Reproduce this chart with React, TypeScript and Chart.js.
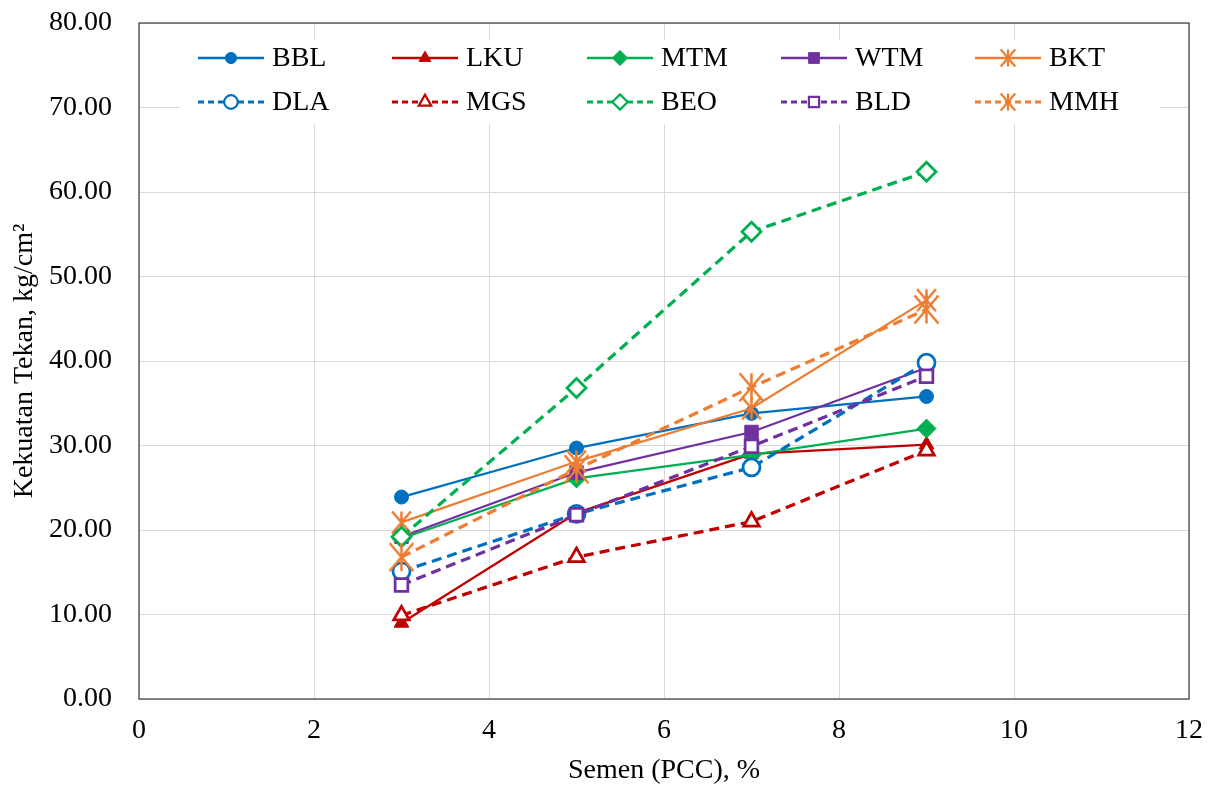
import React, { useEffect, useRef } from 'react';
import { Chart, registerables } from 'chart.js';
import { drawPoint } from 'chart.js/helpers';

Chart.register(...registerables);

// ---------- data ----------
const cementPct = [3, 5, 7, 9];
const seriesNames = ['BBL', 'LKU', 'MTM', 'WTM', 'BKT', 'DLA', 'MGS', 'BEO', 'BLD', 'MMH'];
const BBL = [23.9, 29.7, 33.8, 35.8];
const LKU = [9.0, 22.0, 29.0, 30.1];
const MTM = [19.0, 26.1, 28.9, 32.0];
const WTM = [19.2, 26.8, 31.6, 39.2];
const BKT = [20.9, 28.1, 34.4, 47.2];
const DLA = [15.1, 21.9, 27.4, 39.8];
const MGS = [9.9, 16.8, 21.0, 29.4];
const BEO = [19.2, 36.8, 55.3, 62.4];
const BLD = [13.5, 21.8, 29.9, 38.2];
const MMH = [16.8, 27.2, 36.9, 46.1];
const seriesValues = [BBL, LKU, MTM, WTM, BKT, DLA, MGS, BEO, BLD, MMH];
const xTitle = 'Semen (PCC), %';
const yTitle = 'Kekuatan Tekan, kg/cm²';

// ---------- styles ----------
const BLUE = '#0070C0';
const RED = '#C00000';
const GREEN = '#00B050';
const PURPLE = '#7030A0';
const ORANGE = '#ED7D31';
const FONT = '"Liberation Serif", "Times New Roman", serif';

function makeStar(color: string, h: number, lw: number): HTMLCanvasElement {
  const c = document.createElement('canvas');
  const size = Math.ceil(h + lw + 2);
  c.width = size;
  c.height = size;
  const g = c.getContext('2d')!;
  g.strokeStyle = color;
  g.lineWidth = lw;
  const cx = size / 2;
  const r = h / 2;
  const rx = r * 0.85;
  g.beginPath();
  g.moveTo(cx, cx - r);
  g.lineTo(cx, cx + r);
  g.moveTo(cx - rx, cx - r);
  g.lineTo(cx + rx, cx + r);
  g.moveTo(cx + rx, cx - r);
  g.lineTo(cx - rx, cx + r);
  g.stroke();
  return c;
}

type St = {
  color: string;
  dashed: boolean;
  style: string;
  radius: number;
  filled: boolean;
  starSize?: number;
};
const seriesStyles: St[] = [
  { color: BLUE, dashed: false, style: 'circle', radius: 7, filled: true },
  { color: RED, dashed: false, style: 'triangle', radius: 8.5, filled: true },
  { color: GREEN, dashed: false, style: 'rectRot', radius: 9.5, filled: true },
  { color: PURPLE, dashed: false, style: 'rect', radius: 9.5, filled: true },
  { color: ORANGE, dashed: false, style: 'star', radius: 10, filled: false, starSize: 22 },
  { color: BLUE, dashed: true, style: 'circle', radius: 8.5, filled: false },
  { color: RED, dashed: true, style: 'triangle', radius: 9, filled: false },
  { color: GREEN, dashed: true, style: 'rectRot', radius: 9.5, filled: false },
  { color: PURPLE, dashed: true, style: 'rect', radius: 9, filled: false },
  { color: ORANGE, dashed: true, style: 'star', radius: 12, filled: false, starSize: 28 },
];

const legendX = [198, 392, 587, 781, 975];
const legendY = [58, 102];

export default function App() {
  const ref = useRef<HTMLCanvasElement>(null);

  useEffect(() => {
    document.body.style.margin = '0';
    const legendStars: Record<number, HTMLCanvasElement> = {};
    const datasets = seriesNames.map((name, i) => {
      const s = seriesStyles[i];
      let pointStyle: any = s.style;
      if (s.style === 'star') {
        pointStyle = makeStar(s.color, s.starSize || 20, 2.5);
        legendStars[i] = makeStar(s.color, 17, 2.2);
      }
      return {
        label: name,
        data: cementPct.map((x, j) => ({ x, y: seriesValues[i][j] })),
        borderColor: s.color,
        backgroundColor: s.color,
        borderWidth: s.dashed ? 3.25 : 2.25,
        borderDash: s.dashed ? [10, 6] : [],
        pointStyle,
        pointRadius: s.radius,
        pointBackgroundColor: s.filled ? s.color : '#ffffff',
        pointBorderColor: s.color,
        pointBorderWidth: s.filled ? 1 : 2.75,
        tension: 0,
        order: seriesNames.length - i,
      };
    });

    const framePlugin = {
      id: 'frame',
      beforeDatasetsDraw(chart: any) {
        const { ctx, chartArea: a } = chart;
        ctx.save();
        ctx.strokeStyle = '#404040';
        ctx.lineWidth = 1.25;
        ctx.strokeRect(a.left, a.top, a.right - a.left, a.bottom - a.top);
        ctx.fillStyle = '#ffffff';
        ctx.fillRect(180, 40, 980, 84);
        ctx.restore();
      },
      afterDraw(chart: any) {
        const ctx = chart.ctx;
        ctx.save();
        seriesNames.forEach((name, i) => {
          const s = seriesStyles[i];
          const col = i % 5;
          const row = Math.floor(i / 5);
          const x0 = legendX[col];
          const y = legendY[row];
          ctx.strokeStyle = s.color;
          ctx.lineWidth = s.dashed ? 3 : 2.5;
          ctx.setLineDash(s.dashed ? [6, 4] : []);
          ctx.beginPath();
          ctx.moveTo(x0, y);
          ctx.lineTo(x0 + 66, y);
          ctx.stroke();
          ctx.setLineDash([]);
          const mx = x0 + 33;
          if (s.style === 'star') {
            const img = legendStars[i];
            ctx.drawImage(img, mx - img.width / 2, y - img.height / 2);
          } else {
            ctx.fillStyle = s.filled ? s.color : '#ffffff';
            ctx.strokeStyle = s.color;
            ctx.lineWidth = s.filled ? 1 : 2.2;
            drawPoint(ctx, { pointStyle: s.style as any, radius: s.radius * 0.8, rotation: 0, borderWidth: ctx.lineWidth }, mx, y);
          }
          ctx.fillStyle = '#000000';
          ctx.font = `28px ${FONT}`;
          ctx.textBaseline = 'middle';
          ctx.textAlign = 'left';
          ctx.fillText(name, x0 + 74, y + 1);
        });
        ctx.restore();
      },
    };

    const chart = new Chart(ref.current!, {
      type: 'line',
      data: { datasets: datasets as any },
      options: {
        animation: false,
        responsive: false,
        maintainAspectRatio: false,
        layout: { padding: { top: 23, right: 22, left: 0, bottom: 0 } },
        plugins: { legend: { display: false }, tooltip: { enabled: false } },
        scales: {
          x: {
            type: 'linear',
            min: 0,
            max: 12,
            ticks: { stepSize: 2, color: '#000', font: { family: FONT, size: 28 }, padding: 15 },
            grid: { color: '#d9d9d9', lineWidth: 1, drawTicks: false },
            border: { display: false },
            title: { display: true, text: xTitle, color: '#000', font: { family: FONT, size: 28 }, padding: { top: 0, bottom: 0 } },
            afterFit: (s: any) => {
              s.height = 88;
              s.paddingLeft = 0;
              s.paddingRight = 0;
              s.paddingTop = 0;
              s.paddingBottom = 0;
            },
          },
          y: {
            type: 'linear',
            min: 0,
            max: 80,
            ticks: {
              stepSize: 10,
              color: '#000',
              font: { family: FONT, size: 28 },
              padding: 27,
              callback: (v: any) => Number(v).toFixed(2),
            },
            grid: { color: '#d9d9d9', lineWidth: 1, drawTicks: false },
            border: { display: false },
            title: { display: true, text: yTitle, color: '#000', font: { family: FONT, size: 28 }, padding: { top: 8, bottom: 0 } },
            afterFit: (s: any) => {
              s.width = 139;
              s.paddingLeft = 0;
              s.paddingRight = 0;
              s.paddingTop = 0;
              s.paddingBottom = 0;
            },
          },
        },
      },
      plugins: [framePlugin],
    });
    return () => chart.destroy();
  }, []);

  return (
    <div style={{ position: 'absolute', left: 0, top: 0, width: 1211, height: 787 }}>
      <canvas ref={ref} width={1211} height={787} style={{ width: 1211, height: 787 }} />
    </div>
  );
}
